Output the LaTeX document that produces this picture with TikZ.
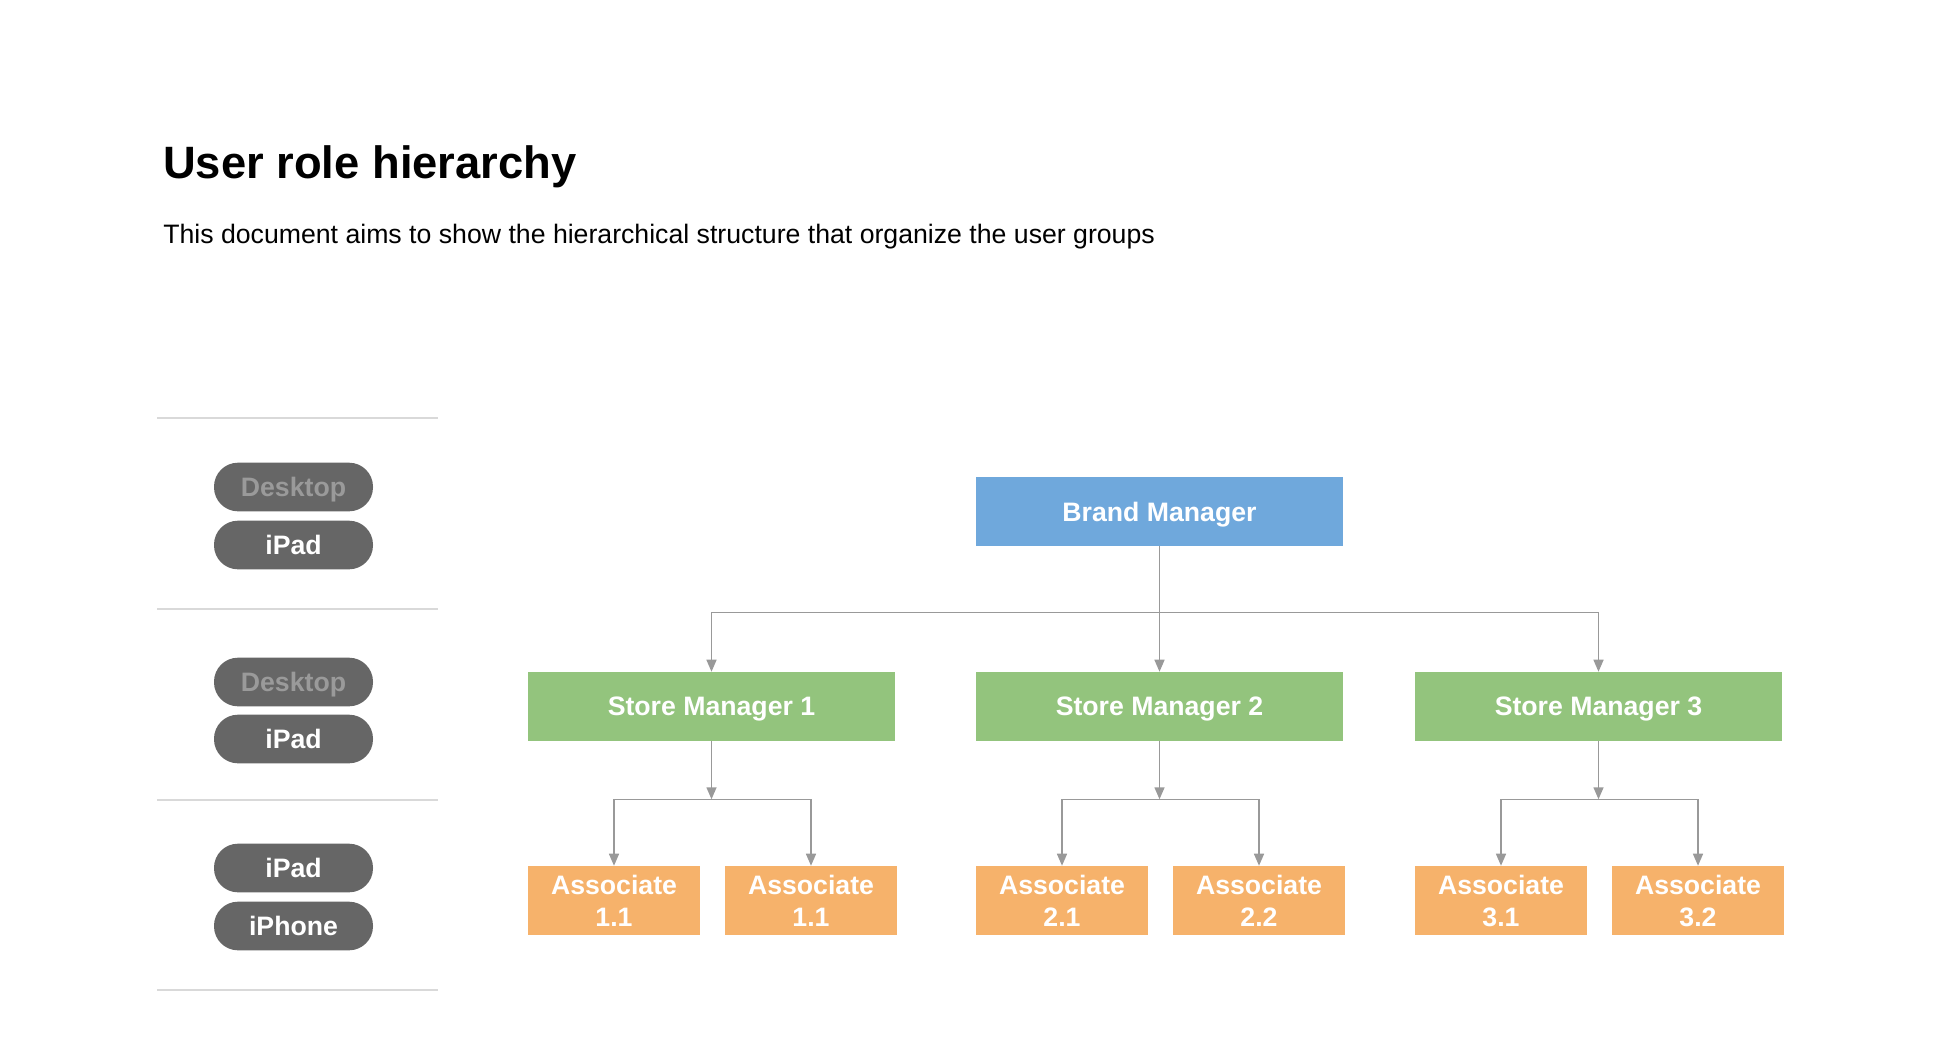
\documentclass[tikz,border=0pt]{standalone}
\usepackage{fontspec}
\setmainfont{Liberation Sans}
\usetikzlibrary{positioning}
\usetikzlibrary{arrows.meta}
\definecolor{brandblue}{HTML}{6FA8DC}
\definecolor{storegreen}{HTML}{93C47D}
\definecolor{assocorange}{HTML}{F6B26B}
\definecolor{pillgray}{HTML}{666666}
\definecolor{deskgray}{HTML}{9A9A9A}
\definecolor{linegray}{HTML}{999999}
\definecolor{sepgray}{HTML}{D9D9D9}
\begin{document}
\begin{tikzpicture}[x=0.75pt,y=-0.75pt,
	font=\fontsize{20}{24}\selectfont\bfseries,
	role node/.style={shape=rectangle,text=white,minimum width=275.25pt,minimum height=51.75pt,inner sep=0,text depth=0pt},
	assoc node/.style={shape=rectangle,fill=assocorange,text=white,minimum width=129pt,minimum height=51.75pt,inner sep=0,align=center},
	pill node/.style={shape=rectangle,rounded corners=18pt,fill=pillgray,text=white,minimum width=119.25pt,minimum height=36.5pt,inner sep=0,text depth=0pt},
	arr/.style={draw=linegray,line width=1.1pt,-{Triangle[length=9pt,width=7.5pt]}},
	sep line/.style={draw=sepgray,line width=1.2pt},
	]
	\useasboundingbox (0,0) rectangle (1956,1054);
	\node[anchor=base west,inner sep=0,font=\fontsize{34}{40}\selectfont\bfseries] (title) at (163,178){User role hierarchy};
	\node[anchor=base west,inner sep=0,font=\fontsize{20}{24}\selectfont] (subtitle) at (163,243){This document aims to show the hierarchical structure that organize the user groups};
	
	%device column
	\foreach \y in {418,609,800,990}
	{
		\draw[sep line] (157,\y) -- (438,\y);
	}
	\node[pill node,text=deskgray] (p1) at (293.5,487){Desktop};
	\node[pill node] (p2) at (293.5,545){iPad};
	\node[pill node,text=deskgray] (p3) at (293.5,682){Desktop};
	\node[pill node] (p4) at (293.5,739){iPad};
	\node[pill node] (p5) at (293.5,868){iPad};
	\node[pill node] (p6) at (293.5,926){iPhone};
	
	%hierarchy
	\node[role node,fill=brandblue] (brand) at (1159.5,511.5){Brand Manager};
	\foreach \i/\x in {1/711.5,2/1159.5,3/1598.5}
	{
		\node[role node,fill=storegreen] (sm\i) at (\x,706.5){Store Manager \i};
		\draw[arr] (brand.south) -- ++(0,66) -| (sm\i.north);
		\draw[arr] (sm\i.south) -- ++(0,58) coordinate (j\i);
	}
	\foreach \n/\j/\x/\t in {a11/1/614/1.1,a12/1/811/1.1,a21/2/1062/2.1,a22/2/1259/2.2,a31/3/1501/3.1,a32/3/1698/3.2}
	{
		\node[assoc node] (\n) at (\x,900.5){Associate\\\t};
		\draw[arr] (j\j) -| (\n.north);
	}
\end{tikzpicture}
\end{document}
